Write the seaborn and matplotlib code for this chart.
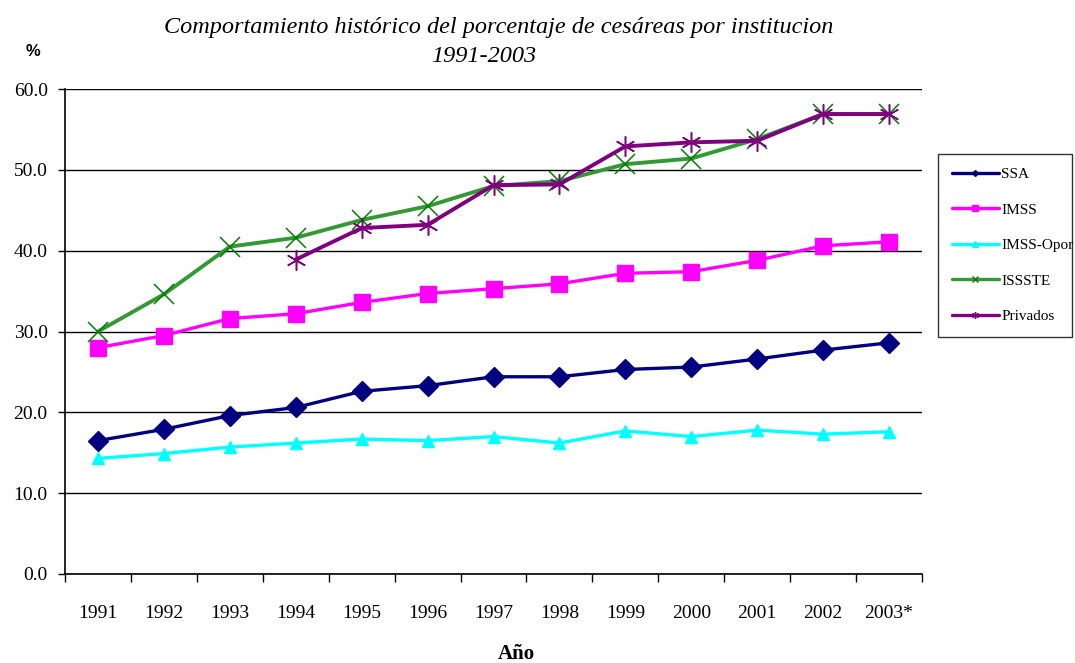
import matplotlib
matplotlib.use("Agg")
import matplotlib.pyplot as plt
from matplotlib.lines import Line2D
import seaborn as sns
import numpy as np

years = ["1991", "1992", "1993", "1994", "1995", "1996", "1997", "1998", "1999", "2000", "2001", "2002", "2003*"]
ssa = [16.5, 17.9, 19.6, 20.6, 22.6, 23.3, 24.4, 24.4, 25.3, 25.6, 26.6, 27.7, 28.6]
imss = [28.0, 29.5, 31.6, 32.2, 33.6, 34.7, 35.3, 35.9, 37.2, 37.4, 38.8, 40.6, 41.1]
imss_opor = [14.3, 14.9, 15.7, 16.2, 16.7, 16.5, 17.0, 16.2, 17.7, 17.0, 17.8, 17.3, 17.6]
issste = [30.0, 34.6, 40.5, 41.6, 43.8, 45.5, 48.0, 48.6, 50.7, 51.4, 53.8, 56.9, 56.9]
privados = [None, None, None, 38.9, 42.8, 43.2, 48.1, 48.2, 52.9, 53.4, 53.6, 56.9, 56.9]

sns.set_style("white")
plt.rcParams['font.family'] = ['Liberation Serif', 'DejaVu Serif']
plt.rcParams['text.color'] = 'black'
plt.rcParams['xtick.color'] = 'black'
plt.rcParams['ytick.color'] = 'black'
plt.rcParams['axes.labelcolor'] = 'black'

fig = plt.figure(figsize=(10.75, 6.63), dpi=100)
ax = fig.add_axes([65/1075, 1-574/663, (922-65)/1075, (574-89)/663])

pos = np.arange(len(years))

def draw(vals, color, marker, ms, mec, mew, lw, label):
    xs = [p for p, v in zip(pos, vals) if v is not None]
    ys = [v for v in vals if v is not None]
    sns.lineplot(x=xs, y=ys, ax=ax, color=color, marker=marker, markersize=ms,
                 markeredgecolor=mec, markerfacecolor=mec, markeredgewidth=mew,
                 linewidth=lw, label=label, legend=False, zorder=3)

draw(ssa, "#000080", "D", 10.5, "#000080", 1, 2.4, "SSA")
draw(imss, "#FF00FF", "s", 11.5, "#FF00FF", 1, 2.4, "IMSS")
draw(imss_opor, "#00FFFF", "^", 9, "#00FFFF", 1, 2.4, "IMSS-Opor")
draw(issste, "#339933", "x", 14, "#008000", 1.1, 2.8, "ISSSTE")
draw(privados, "#800080", (6, 2, 0), 14.5, "#800080", 1.1, 2.8, "Privados")

ax.set_xlim(-0.5, len(years) - 0.5)
ax.set_ylim(0, 60)
ax.set_yticks(np.arange(0, 61, 10))
ax.set_yticklabels([f"{v:.1f}" for v in np.arange(0, 61, 10)], fontsize=14)
ax.set_xticks(pos)
ax.set_xticklabels(years, fontsize=14)
ax.set_xticks(np.arange(-0.5, len(years), 1), minor=True)
ax.tick_params(axis='x', which='major', length=0, pad=22)
ax.tick_params(axis='x', which='minor', length=6, width=1, color='black', direction='out', bottom=True)
ax.tick_params(axis='y', which='major', length=5, width=1, color='black', direction='out', left=True, pad=7.5)

ax.yaxis.grid(True, color='black', linewidth=1)
ax.xaxis.grid(False)
ax.set_axisbelow(True)
for s in ['top', 'right']:
    ax.spines[s].set_visible(False)
for s in ['left', 'bottom']:
    ax.spines[s].set_color('black')
    ax.spines[s].set_linewidth(1.2)

ax.set_xlabel("")
ax.set_ylabel("")

fig.text(499/1075, 1-27/663, "Comportamiento histórico del porcentaje de cesáreas por institucion",
         ha='center', va='center', fontsize=17.5, style='italic')
fig.text(484/1075, 1-57/663, "1991-2003", ha='center', va='center', fontsize=17.5, style='italic')
fig.text(33/1075, 1-51/663, "%", ha='center', va='center', fontsize=12, weight='bold',
         family=['Liberation Sans', 'DejaVu Sans'])
fig.text(516/1075, 1-654/663, "Año", ha='center', va='center', fontsize=15, weight='bold')

handles = [
    Line2D([], [], color="#000080", marker="D", markersize=3, lw=2.4),
    Line2D([], [], color="#FF00FF", marker="s", markersize=4, lw=2.4),
    Line2D([], [], color="#00FFFF", marker="^", markersize=4, lw=2.4),
    Line2D([], [], color="#339933", marker="x", markersize=5, markeredgecolor="#008000", lw=2.4),
    Line2D([], [], color="#800080", marker=(6, 2, 0), markersize=5, lw=2.4),
]
labels = ["SSA", "IMSS", "IMSS-Opor", "ISSSTE", "Privados"]
leg = fig.legend(handles, labels, loc='upper left',
                 bbox_to_anchor=(938/1075, 1-339/663, 134/1075, 185/663),
                 mode='expand', frameon=True, fancybox=False, edgecolor='black',
                 fontsize=11, handlelength=3.1, handletextpad=0.15, labelspacing=1.42,
                 borderpad=0.9, borderaxespad=0)
leg.get_frame().set_linewidth(1)

fig.savefig("out.png", dpi=100)
